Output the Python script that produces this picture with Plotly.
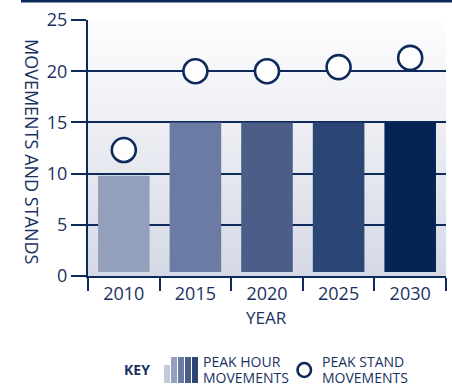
import plotly.graph_objects as go

# ---- data ----
years = ["2010", "2015", "2020", "2025", "2030"]
peak_hour_movements = [9.8, 15.0, 15.0, 15.0, 15.0]
peak_stand_movements = [12.3, 20.0, 20.0, 20.4, 21.3]
bar_colors = ["#93a0bc", "#6b7ba3", "#4a5e88", "#2b4674", "#042454"]
y_ticks = [0, 5, 10, 15, 20, 25]

NAVY = "#0e2a5a"
TEXT = "#1a3262"
FONT = "Open Sans"
BAR_BASE = 0.4

W, H = 452, 386
L, R, T, B = 88, 6, 20, 110
PW, PH = W - L - R, H - T - B


def px_x(px):
    return (px - L) / PW


def px_y(py):
    return (H - B - py) / PH


fig = go.Figure()

fig.add_trace(go.Bar(
    x=years,
    y=[v - BAR_BASE for v in peak_hour_movements],
    base=BAR_BASE,
    marker=dict(color=bar_colors, line=dict(width=0)),
    width=0.72,
    hoverinfo="skip",
    showlegend=False,
))

fig.add_trace(go.Scatter(
    x=years,
    y=peak_stand_movements,
    mode="markers",
    marker=dict(symbol="circle", size=24, color="white",
                line=dict(color=NAVY, width=2.6)),
    showlegend=False,
    cliponaxis=False,
))

shapes = []
# gradient plot background
N = 60
top = (253, 253, 254)
bot = (213, 217, 229)
for i in range(N):
    t = i / N
    c = tuple(round(bot[k] + (top[k] - bot[k]) * (t + 0.5 / N)) for k in range(3))
    shapes.append(dict(type="rect", xref="paper", yref="paper",
                       x0=0, x1=1, y0=i / N, y1=(i + 1) / N + 0.002,
                       fillcolor="rgb(%d,%d,%d)" % c, line=dict(width=0),
                       layer="below"))
# top band
shapes.append(dict(type="rect", xref="paper", yref="paper",
                   x0=px_x(21), x1=px_x(452), y0=px_y(2.5), y1=px_y(-1),
                   fillcolor=NAVY, line=dict(width=0)))

# legend bar icon
icon_cols = ["#c3c9db", "#93a0bc", "#6b7ba3", "#4a5e88", "#2b4674"]
icon_tops = [365, 357, 357, 357, 357]
for i, (c, tp) in enumerate(zip(icon_cols, icon_tops)):
    x0 = 164 + i * 7
    shapes.append(dict(type="rect", xref="paper", yref="paper",
                       x0=px_x(x0), x1=px_x(x0 + 6), y0=px_y(383), y1=px_y(tp),
                       fillcolor=c, line=dict(width=0)))
# legend circle
shapes.append(dict(type="circle", xref="paper", yref="paper",
                   x0=px_x(297.5), x1=px_x(311), y0=px_y(377), y1=px_y(363),
                   fillcolor="white", line=dict(color=NAVY, width=2.6)))


def ann(text, x, y, size, xanchor="center", angle=0):
    return dict(text=text, xref="paper", yref="paper", x=px_x(x), y=px_y(y),
                xanchor=xanchor, yanchor="middle", textangle=angle,
                showarrow=False, font=dict(family=FONT, size=size, color=TEXT))


annotations = [
    ann("MOVEMENTS AND STANDS", 32, 152, 18, angle=90),
    ann("YEAR", 266, 317, 17),
    ann("<b>KEY</b>", 137, 369, 14),
    ann("PEAK HOUR", 201, 361, 14, "left"),
    ann("MOVEMENTS", 201, 377, 14, "left"),
    ann("PEAK STAND", 320, 361, 14, "left"),
    ann("MOVEMENTS", 320, 377, 14, "left"),
]

fig.update_layout(
    width=W, height=H,
    margin=dict(l=L, r=R, t=T, b=B),
    paper_bgcolor="white",
    plot_bgcolor="rgba(0,0,0,0)",
    font=dict(family=FONT, color=TEXT),
    shapes=shapes,
    annotations=annotations,
)

fig.update_xaxes(
    type="category",
    tickson="boundaries",
    ticks="outside", ticklen=13, tickwidth=2, tickcolor=NAVY,
    showline=True, linecolor=NAVY, linewidth=2,
    showgrid=False,
    tickfont=dict(family=FONT, size=18, color=TEXT),
)

fig.update_yaxes(
    range=[0, 25],
    tickvals=y_ticks,
    ticks="outside", ticklen=15, tickwidth=2, tickcolor=NAVY,
    showline=True, linecolor=NAVY, linewidth=2,
    showgrid=True, gridcolor=NAVY, gridwidth=1.6,
    zeroline=False,
    tickfont=dict(family=FONT, size=18, color=TEXT),
)

fig.write_html("out.html")
